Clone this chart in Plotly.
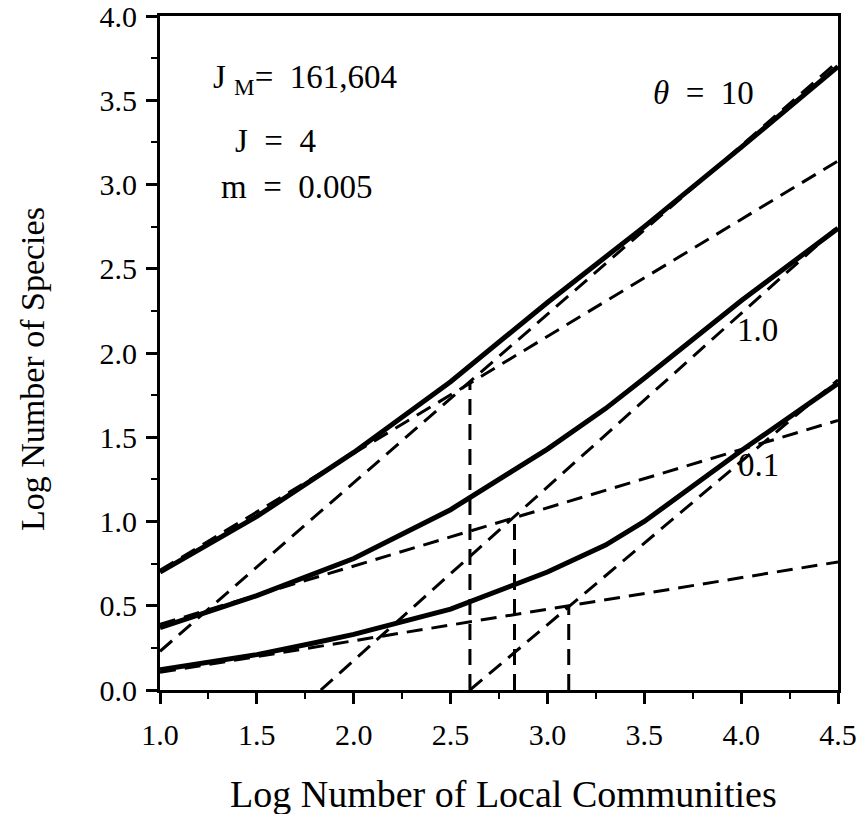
import plotly.graph_objects as go

# ---- data ----
theta10_x = [1.0, 1.5, 2.0, 2.5, 3.0, 3.5, 4.0, 4.5]
theta10_y = [0.70, 1.03, 1.41, 1.83, 2.30, 2.75, 3.22, 3.70]

theta1_x = [1.0, 1.5, 2.0, 2.5, 3.0, 3.3, 3.5, 4.0, 4.5]
theta1_y = [0.37, 0.56, 0.78, 1.07, 1.43, 1.67, 1.85, 2.31, 2.74]

theta01_x = [1.0, 1.5, 1.8, 2.0, 2.5, 3.0, 3.3, 3.5, 4.0, 4.5]
theta01_y = [0.12, 0.21, 0.28, 0.33, 0.48, 0.70, 0.86, 1.00, 1.42, 1.82]

# asymptotes (dashed straight lines): [x0, x1], [y0, y1]
asym_x = [[1.0, 4.5], [1.0, 4.5], [1.0, 4.5], [1.83, 4.5], [1.0, 4.5], [2.6, 4.5]]
asym_y = [[0.71, 3.14], [0.23, 3.73], [0.39, 1.60], [0.0, 2.75], [0.105, 0.76], [0.0, 1.84]]

# vertical dashed drop lines at the crossing points
drop_x = [2.60, 2.83, 3.11]
drop_top = [1.82, 1.02, 0.50]

x_ticks = [1.0, 1.5, 2.0, 2.5, 3.0, 3.5, 4.0, 4.5]
y_ticks = [0.0, 0.5, 1.0, 1.5, 2.0, 2.5, 3.0, 3.5, 4.0]

FONT = "Liberation Serif"
DASH = "16px,9px"

# plot-area pixel box (for placing annotations)
L, R, T, B = 160, 838, 16, 690

fig = go.Figure()

for xs, ys in zip(asym_x, asym_y):
    fig.add_trace(go.Scatter(x=xs, y=ys, mode="lines",
                             line=dict(color="black", width=3, dash=DASH),
                             showlegend=False, hoverinfo="skip"))
for xv, top in zip(drop_x, drop_top):
    fig.add_trace(go.Scatter(x=[xv, xv], y=[0.0, top], mode="lines",
                             line=dict(color="black", width=3, dash=DASH),
                             showlegend=False, hoverinfo="skip"))

for xs, ys in [(theta10_x, theta10_y), (theta1_x, theta1_y), (theta01_x, theta01_y)]:
    fig.add_trace(go.Scatter(x=xs, y=ys, mode="lines",
                             line=dict(color="black", width=5),
                             showlegend=False))


def px(xp, yp):
    return (xp - L) / (R - L), 1 - (yp - T) / (B - T)


ann = [
    dict(x=305, y=80, text="J <sub>M</sub>=  161,604"),
    dict(x=275, y=141, text="J  =  4"),
    dict(x=297, y=187, text="m  =  0.005"),
    dict(x=703, y=93, text="<i>θ</i>  =  10"),
    dict(x=757, y=330, text="1.0"),
    dict(x=758, y=465, text="0.1"),
]
for a in ann:
    ax_, ay_ = px(a["x"], a["y"])
    fig.add_annotation(x=ax_, y=ay_, xref="paper", yref="paper", text=a["text"],
                       showarrow=False, xanchor="center", yanchor="middle",
                       font=dict(family=FONT, size=33, color="black"))

# axis titles placed as in the reference
tx, ty = px(32, 369)
fig.add_annotation(x=tx, y=ty, xref="paper", yref="paper", text="Log Number of Species",
                   textangle=-90, showarrow=False, xanchor="center", yanchor="middle",
                   font=dict(family=FONT, size=34, color="black"))
tx, ty = px(503, 794)
fig.add_annotation(x=tx, y=ty, xref="paper", yref="paper", text="Log Number of Local Communities",
                   showarrow=False, xanchor="center", yanchor="middle",
                   font=dict(family=FONT, size=38, color="black"))

axis_common = dict(
    showgrid=False, zeroline=False, showline=True, linecolor="black", linewidth=3,
    mirror=True, ticks="outside", ticklen=11, tickwidth=3, tickcolor="black",
    tickfont=dict(family=FONT, size=30, color="black"), automargin=False,
)

fig.update_xaxes(range=[1.0, 4.5], tickvals=x_ticks,
                 ticktext=[f"{v:.1f}" for v in x_ticks],
                 minor=dict(dtick=0.25, ticks="outside", ticklen=6, tickwidth=2, tickcolor="black"),
                 ticklabelstandoff=5, ticklabeloverflow="allow",
                 **axis_common)
fig.update_yaxes(range=[0.0, 4.0], tickvals=y_ticks,
                 ticktext=[f"{v:.1f}" for v in y_ticks],
                 minor=dict(dtick=0.25, ticks="outside", ticklen=6, tickwidth=2, tickcolor="black"),
                 ticklabelstandoff=3, ticklabeloverflow="allow",
                 **axis_common)

fig.update_layout(width=868, height=814, margin=dict(l=L, r=868 - R, t=T, b=814 - B),
                  plot_bgcolor="white", paper_bgcolor="white")

fig.write_html("out.html")
